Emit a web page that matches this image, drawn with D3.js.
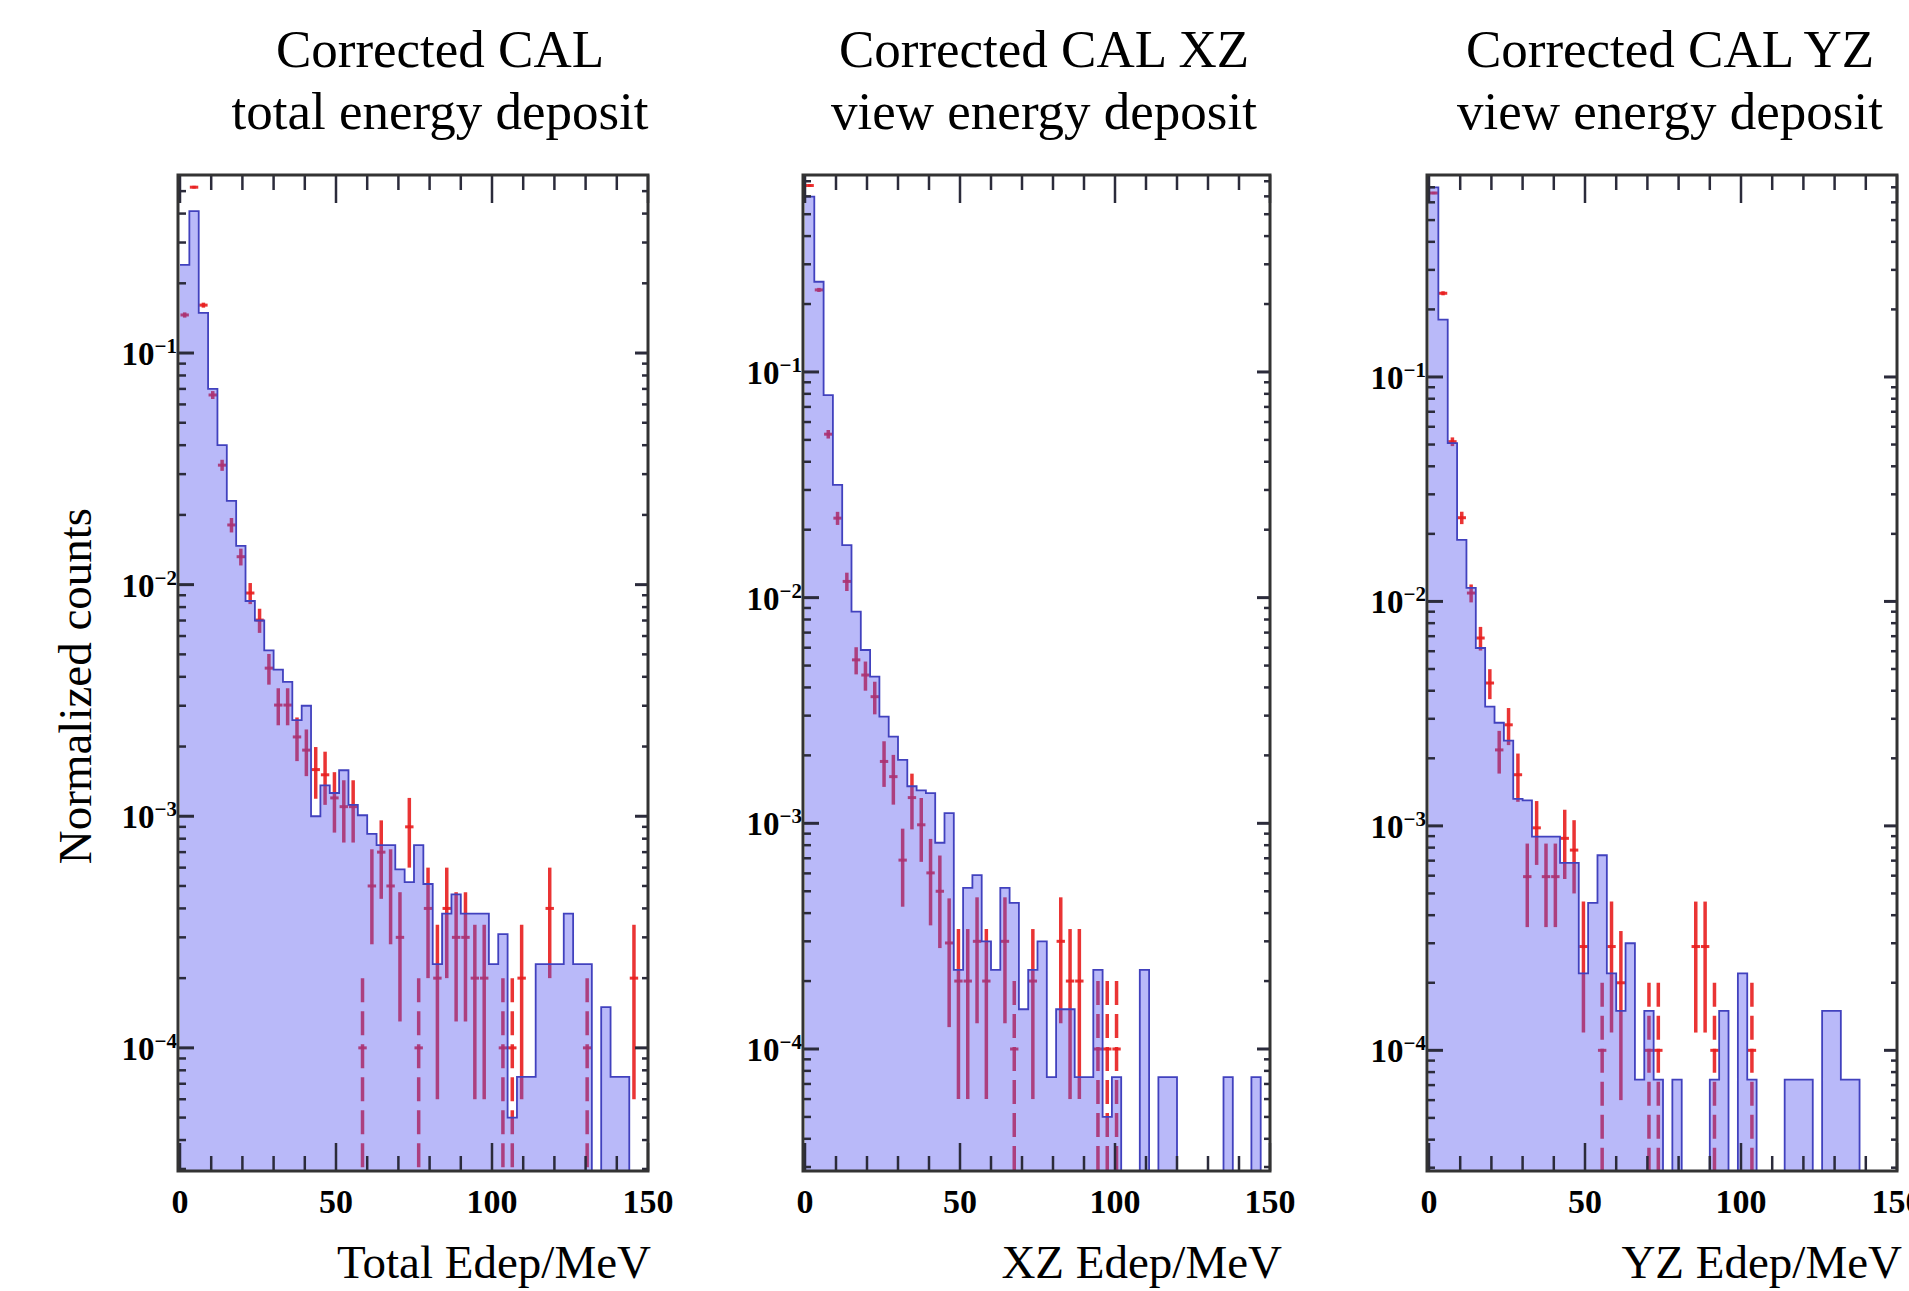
<!DOCTYPE html>
<html>
<head>
<meta charset="utf-8">
<script src="https://cdn.jsdelivr.net/npm/d3@7/dist/d3.min.js"></script>
<style>
body { margin: 0; background: #fff; }
text { font-family: 'Liberation Serif', 'Times New Roman', serif; fill: #000; }
.tick-label { font-weight: bold; font-size: 34px; }
.title { font-size: 53px; }
.axis-label { font-size: 47px; }
</style>
</head>
<body>
<svg width="1909" height="1291"></svg>
<script>
// histograms run from 0 to 150 MeV in 3 MeV bins
var binWidth = 3;
var xMax = 150;
var xMajorTicks = [0, 50, 100, 150];
var yDecades = [-1, -2, -3, -4];

var titles = [
    ['Corrected CAL', 'total energy deposit'],
    ['Corrected CAL XZ', 'view energy deposit'],
    ['Corrected CAL YZ', 'view energy deposit']
];
var xLabels = ['Total Edep/MeV', 'XZ Edep/MeV', 'YZ Edep/MeV'];
var yLabel = 'Normalized counts';

// simulation (blue histogram), one value per bin
var totalMC = [0.24, 0.41, 0.149, 0.070, 0.040, 0.023, 0.0147, 0.0085, 0.0070, 0.0052,
    0.0043, 0.0038, 0.0026, 0.0030, 0.0010, 0.00136, 0.00126, 0.00158, 0.00112, 0.00101,
    0.00084, 0.00075, 0.00075, 0.00059, 0.00052, 0.00075, 0.00051, 0.00023, 0.00038, 0.00046,
    0.00038, 0.00038, 0.00038, 0.00023, 0.00031, 0.00005, 0.000075, 0.000075, 0.00023, 0.00023,
    0.00023, 0.00038, 0.00023, 0.00023, 0, 0.00015, 0.000075, 0.000075, 0, 0];
var xzMC = [0.598, 0.251, 0.079, 0.0316, 0.0171, 0.00867, 0.00586, 0.00447, 0.00297, 0.00242,
    0.00191, 0.00146, 0.0014, 0.00136, 0.00082, 0.00111, 0.000224, 0.000518, 0.00059, 0.0003,
    0.000224, 0.000518, 0.000444, 0.00015, 0.000224, 0.0003, 0.000075, 0.00015, 0.00015, 0.000075,
    0.000075, 0.000224, 0.00005, 0.000075, 0, 0, 0.000224, 0, 0.000075, 0.000075,
    0, 0, 0, 0, 0, 0.000075, 0, 0, 0.000075, 0];
var yzMC = [0.70, 0.18, 0.0507, 0.0188, 0.0115, 0.0062, 0.0034, 0.00288, 0.0024, 0.00132,
    0.0013, 0.000895, 0.000895, 0.000895, 0.000684, 0.000684, 0.00022, 0.000454, 0.00074, 0.00022,
    0.00015, 0.0003, 0.000074, 0.00015, 0.000074, 0, 0.000074, 0, 0, 0,
    0.000074, 0.00015, 0, 0.00022, 0.000074, 0, 0, 0, 0.000074, 0.000074,
    0.000074, 0, 0.00015, 0.00015, 0.000074, 0.000074, 0, 0, 0, 0];

// measured points (red), null where no point is drawn
var totalData = [0.146, 0.52, 0.161, 0.0659, 0.0328, 0.0181, 0.0132, 0.0092, 0.00703, 0.00436,
    0.00302, 0.00302, 0.0022, 0.00193, 0.00159, 0.00151, 0.0012, 0.0011, 0.0011, 0.0001,
    0.0005, 0.0007, 0.0005, 0.0003, 0.0009, 0.0001, 0.0004, 0.0002, 0.0004, 0.0003,
    0.0003, 0.0002, 0.0002, null, 0.0001, 0.0001, 0.0002, null, null, 0.0004,
    null, null, null, 0.0001, null, null, null, null, 0.0002, null];
var totalErr = [0.0038, 0.0072, 0.004, 0.0026, 0.0018, 0.0013, 0.0011, 0.00096, 0.00084, 0.00066,
    0.00055, 0.00055, 0.00047, 0.00044, 0.0004, 0.00039, 0.00035, 0.00033, 0.00033, 0.0001,
    0.00022, 0.00026, 0.00022, 0.00017, 0.0003, 0.0001, 0.0002, 0.00014, 0.0002, 0.00017,
    0.00017, 0.00014, 0.00014, null, 0.0001, 0.0001, 0.00014, null, null, 0.0002,
    null, null, null, 0.0001, null, null, null, null, 0.00014, null];

var xzData = [0.67, 0.231, 0.053, 0.0225, 0.0118, 0.0053, 0.00454, 0.00364, 0.00188, 0.00161,
    0.000687, 0.0013, 0.000985, 0.000603, 0.0005, 0.000295, 0.0002, 0.0002, 0.0003, 0.0002,
    null, 0.0003, 0.0001, null, 0.0002, null, null, 0.0003, 0.0002, 0.0002,
    null, 0.0001, 0.0001, 0.0001, null, null, null, null, null, null,
    null, null, null, null, null, null, null, null, null, null];
var xzErr = [0.0082, 0.0048, 0.0023, 0.0015, 0.0011, 0.00073, 0.00067, 0.0006, 0.00043, 0.0004,
    0.00026, 0.00036, 0.00031, 0.00025, 0.00022, 0.00017, 0.00014, 0.00014, 0.00017, 0.00014,
    null, 0.00017, 0.0001, null, 0.00014, null, null, 0.00017, 0.00014, 0.00014,
    null, 0.0001, 0.0001, 0.0001, null, null, null, null, null, null,
    null, null, null, null, null, null, null, null, null, null];

var yzData = [0.66, 0.236, 0.0515, 0.0236, 0.0109, 0.00687, 0.00433, 0.00218, 0.00282, 0.00169,
    0.000594, 0.00098, 0.000594, 0.000594, 0.00088, 0.00078, 0.00029, null, 0.0001, 0.00029,
    0.0002, null, null, 0.0001, 0.0001, null, null, null, 0.00029, 0.00029,
    0.0001, null, null, null, 0.0001, null, null, null, null, null,
    null, null, null, null, null, null, null, null, null, null];
var yzErr = [0.0081, 0.0049, 0.0023, 0.0015, 0.001, 0.00083, 0.00066, 0.00047, 0.00053, 0.00041,
    0.00024, 0.00031, 0.00024, 0.00024, 0.0003, 0.00028, 0.00017, null, 0.0001, 0.00017,
    0.00014, null, null, 0.0001, 0.0001, null, null, null, 0.00017, 0.00017,
    0.0001, null, null, null, 0.0001, null, null, null, null, null,
    null, null, null, null, null, null, null, null, null, null];

var svg = d3.select('svg');

var plotTop = 175, plotBottom = 1171;
var red = '#e81e1e';

// layout of the three frames
var panels = [
    { left: 178, right: 648, yMin: 2.94e-5, yMax: 0.587, titleX: 440, labelRight: 651,
      mc: totalMC, data: totalData, err: totalErr },
    { left: 803, right: 1270, yMin: 2.88e-5, yMax: 0.746, titleX: 1044, labelRight: 1282,
      mc: xzMC, data: xzData, err: xzErr },
    { left: 1427, right: 1897, yMin: 2.9e-5, yMax: 0.794, titleX: 1670, labelRight: 1902,
      mc: yzMC, data: yzData, err: yzErr }
];

panels.forEach(drawPanel);

svg.append('text')
    .attr('class', 'axis-label')
    .attr('transform', 'translate(91,686) rotate(-90)')
    .attr('text-anchor', 'middle')
    .text(yLabel);

function drawPanel(p, i) {
    var x = d3.scaleLinear().domain([0, xMax]).range([p.left + 2, p.right]);
    var y = d3.scaleLog().domain([p.yMin, p.yMax]).range([plotBottom, plotTop]).clamp(true);

    var g = svg.append('g');

    g.append('clipPath').attr('id', 'clip' + i)
        .append('rect')
        .attr('x', p.left).attr('y', plotTop)
        .attr('width', p.right - p.left).attr('height', plotBottom - plotTop);

    var plot = g.append('g').attr('clip-path', 'url(#clip' + i + ')');

    // red data points go underneath the translucent histogram
    var pts = p.data.map(function(v, k) {
        return { k: k, v: v, err: p.err[k] };
    }).filter(function(d) { return d.v != null; });

    plot.selectAll('.errbar').data(pts).enter()
        .append('line')
        .attr('class', 'errbar')
        .attr('x1', function(d) { return x((d.k + 0.5) * binWidth); })
        .attr('x2', function(d) { return x((d.k + 0.5) * binWidth); })
        .attr('y1', function(d) { return y(d.v + d.err); })
        .attr('y2', function(d) {
            var lo = d.v - d.err;
            return lo > 0 ? y(lo) : plotBottom;
        })
        // bars reaching zero look broken up in the original
        .style('stroke-dasharray', function(d) {
            return d.v - d.err > 0 ? null : '24,9';
        })
        .style('stroke', red)
        .style('stroke-opacity', 0.9)
        .style('stroke-width', 3.5);

    plot.selectAll('.marker').data(pts).enter()
        .append('line')
        .attr('class', 'marker')
        .attr('x1', function(d) { return x((d.k + 0.5) * binWidth - 1.35); })
        .attr('x2', function(d) { return x((d.k + 0.5) * binWidth + 1.35); })
        .attr('y1', function(d) { return y(d.v); })
        .attr('y2', function(d) { return y(d.v); })
        .style('stroke', red)
        .style('stroke-opacity', 0.9)
        .style('stroke-width', 3);

    // step histogram
    var steps = p.mc.map(function(v, k) { return { e: k * binWidth, v: v }; });
    steps.push({ e: xMax, v: p.mc[p.mc.length - 1] });

    var yv = function(d) { return d.v > 0 ? y(d.v) : plotBottom; };

    plot.append('path')
        .datum(steps)
        .attr('d', d3.area().curve(d3.curveStepAfter)
            .x(function(d) { return x(d.e); })
            .y0(plotBottom)
            .y1(yv))
        .style('fill', 'rgb(80,80,240)')
        .style('fill-opacity', 0.4);

    plot.append('path')
        .datum(steps)
        .attr('d', d3.line().curve(d3.curveStepAfter)
            .x(function(d) { return x(d.e); })
            .y(yv))
        .style('fill', 'none')
        .style('stroke', 'rgb(65,65,190)')
        .style('stroke-width', 1.8);

    // ticks, all pointing into the frame
    var tickColor = '#2b2b3b';
    var xMinor = d3.range(10, xMax, 10).filter(function(t) { return t % 50 !== 0; });

    xMajorTicks.concat(xMinor).forEach(function(t) {
        var len = t % 50 === 0 ? 28 : 15;
        g.append('line')
            .attr('x1', x(t)).attr('x2', x(t))
            .attr('y1', plotBottom).attr('y2', plotBottom - len)
            .style('stroke', tickColor).style('stroke-width', 2.5);
        g.append('line')
            .attr('x1', x(t)).attr('x2', x(t))
            .attr('y1', plotTop).attr('y2', plotTop + len)
            .style('stroke', tickColor).style('stroke-width', 2.5);
    });

    var yMinor = [];
    d3.range(-5, 1).forEach(function(d) {
        for (var m = 2; m <= 9; m++) {
            var v = m * Math.pow(10, d);
            if (v > p.yMin && v < p.yMax) yMinor.push(v);
        }
    });
    yMinor.forEach(function(v) {
        g.append('line')
            .attr('x1', p.left).attr('x2', p.left + 8)
            .attr('y1', y(v)).attr('y2', y(v))
            .style('stroke', tickColor).style('stroke-width', 2.5);
        g.append('line')
            .attr('x1', p.right).attr('x2', p.right - 6)
            .attr('y1', y(v)).attr('y2', y(v))
            .style('stroke', tickColor).style('stroke-width', 2.5);
    });
    yDecades.forEach(function(d) {
        var v = Math.pow(10, d);
        g.append('line')
            .attr('x1', p.left).attr('x2', p.left + 16)
            .attr('y1', y(v)).attr('y2', y(v))
            .style('stroke', tickColor).style('stroke-width', 3);
        g.append('line')
            .attr('x1', p.right).attr('x2', p.right - 13)
            .attr('y1', y(v)).attr('y2', y(v))
            .style('stroke', tickColor).style('stroke-width', 3);

        var lab = g.append('text')
            .attr('class', 'tick-label')
            .attr('x', p.left - 1)
            .attr('y', y(v) + 12)
            .style('font-size', '33px')
            .attr('text-anchor', 'end');
        lab.append('tspan').text('10');
        lab.append('tspan')
            .attr('dy', -12)
            .style('font-size', '21px')
            .text('\u2212' + (-d));
    });

    g.append('rect')
        .attr('x', p.left).attr('y', plotTop)
        .attr('width', p.right - p.left).attr('height', plotBottom - plotTop)
        .style('fill', 'none')
        .style('stroke', '#333')
        .style('stroke-width', 3);

    g.selectAll('.xlab').data(xMajorTicks).enter()
        .append('text')
        .attr('class', 'tick-label')
        .attr('x', function(d) { return x(d); })
        .attr('y', plotBottom + 42)
        .attr('text-anchor', 'middle')
        .text(function(d) { return d; });

    // two line title above each frame
    g.append('text')
        .attr('class', 'title')
        .attr('x', p.titleX).attr('y', 67)
        .attr('text-anchor', 'middle')
        .text(titles[i][0]);
    g.append('text')
        .attr('class', 'title')
        .attr('x', p.titleX).attr('y', 129)
        .attr('text-anchor', 'middle')
        .text(titles[i][1]);

    g.append('text')
        .attr('class', 'axis-label')
        .attr('x', p.labelRight).attr('y', 1278)
        .attr('text-anchor', 'end')
        .text(xLabels[i]);
}
</script>
</body>
</html>
